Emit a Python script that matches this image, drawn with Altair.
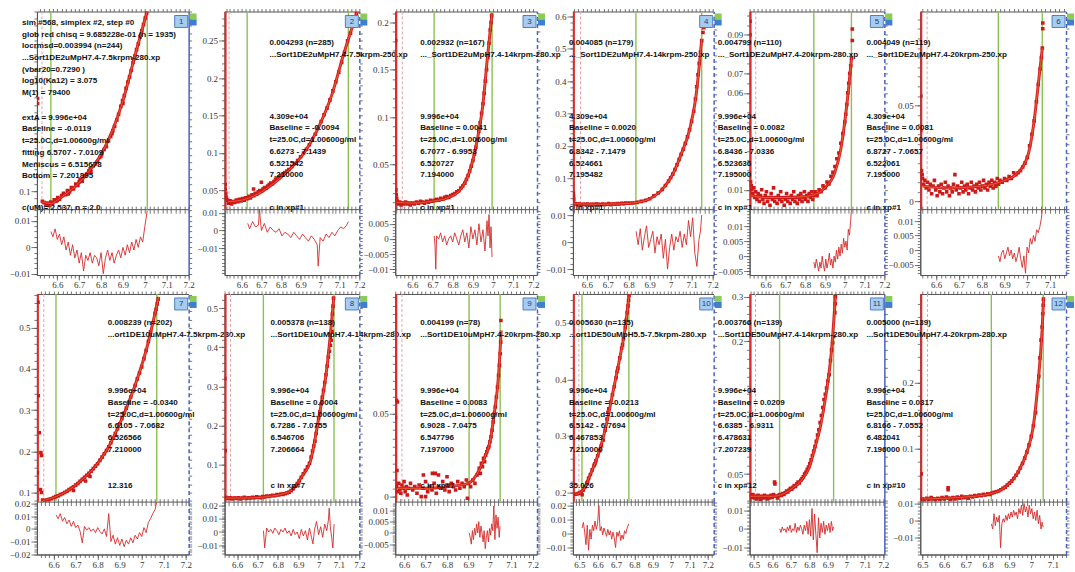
import math
import altair as alt
import pandas as pd

# ---------------- values ----------------
X_LABELS = [6.5, 6.6, 6.7, 6.8, 6.9, 7.0, 7.1, 7.2]

P1_PTS = [(6.510,0.229),(6.510,0.222),(6.532,0.086),(6.540,0.084),(6.548,0.081),(6.556,0.083),(6.562,0.080),(6.570,0.085),(6.578,0.083),(6.586,0.088),(6.594,0.086),(6.600,0.087),(6.602,0.091),(6.610,0.089),(6.620,0.094),(6.628,0.097),(6.638,0.095),(6.646,0.101),(6.650,0.096),(6.656,0.099),(6.664,0.105),(6.674,0.103),(6.684,0.110),(6.694,0.108),(6.700,0.113),(6.704,0.116),(6.714,0.114),(6.724,0.121),(6.734,0.124),(6.744,0.128),(6.750,0.131),(6.754,0.127),(6.764,0.135),(6.774,0.138),(6.784,0.141),(6.794,0.147),(6.800,0.149),(6.804,0.152),(6.814,0.158),(6.824,0.162),(6.834,0.170),(6.844,0.176),(6.850,0.180),(6.854,0.184),(6.862,0.190),(6.872,0.199),(6.880,0.207),(6.890,0.218),(6.898,0.226),(6.900,0.222),(6.906,0.233),(6.914,0.243),(6.922,0.252),(6.930,0.259),(6.938,0.268),(6.946,0.279),(6.950,0.284),(6.954,0.288),(6.962,0.297),(6.970,0.305),(6.978,0.315),(6.986,0.323),(6.994,0.332),(7.002,0.341),(7.008,0.348)]
P1_FIT = [(6.53,0.085),(6.57,0.083),(6.62,0.092),(6.68,0.106),(6.74,0.126),(6.80,0.151),(6.85,0.183),(6.90,0.226),(6.95,0.283),(7.01,0.35)]

P2_PTS = [(6.515,0.058),(6.515,0.052),(6.518,0.046),(6.520,0.041),(6.525,0.037),(6.532,0.033),(6.540,0.036),(6.548,0.032),(6.556,0.035),(6.564,0.034),(6.572,0.037),(6.580,0.035),(6.588,0.038),(6.596,0.036),(6.604,0.039),(6.612,0.037),(6.620,0.040),(6.628,0.039),(6.636,0.042),(6.644,0.040),(6.652,0.044),(6.660,0.043),(6.660,0.052),(6.668,0.046),(6.676,0.045),(6.684,0.048),(6.692,0.050),(6.700,0.049),(6.700,0.061),(6.708,0.052),(6.716,0.054),(6.724,0.053),(6.732,0.056),(6.740,0.058),(6.748,0.060),(6.756,0.059),(6.764,0.062),(6.772,0.065),(6.780,0.066),(6.790,0.068),(6.800,0.070),(6.810,0.072),(6.820,0.074),(6.830,0.076),(6.840,0.078),(6.855,0.082),(6.870,0.086),(6.885,0.090),(6.900,0.095),(6.915,0.100),(6.930,0.105),(6.945,0.111),(6.960,0.117),(6.975,0.125),(6.990,0.133),(7.005,0.142),(7.020,0.151),(7.035,0.160),(7.050,0.171),(7.065,0.183),(7.080,0.195),(7.095,0.208),(7.110,0.221),(7.125,0.235),(7.140,0.250),(7.155,0.260),(7.168,0.270),(7.178,0.280),(7.185,0.286)]
P2_FIT = [(6.53,0.035),(6.60,0.037),(6.68,0.045),(6.76,0.059),(6.84,0.077),(6.92,0.101),(7.00,0.139),(7.06,0.178),(7.12,0.232),(7.19,0.289)]

P3_PTS = [(6.517,0.181),(6.518,0.023),(6.520,0.018),(6.522,0.014),(6.525,0.011),(6.530,0.008),(6.537,0.010),(6.544,0.007),(6.551,0.009),(6.558,0.008),(6.566,0.010),(6.574,0.008),(6.582,0.009),(6.590,0.007),(6.600,0.009),(6.610,0.008),(6.620,0.010),(6.630,0.009),(6.640,0.011),(6.650,0.010),(6.660,0.009),(6.670,0.011),(6.680,0.010),(6.690,0.012),(6.700,0.011),(6.710,0.012),(6.720,0.013),(6.730,0.012),(6.740,0.014),(6.750,0.013),(6.760,0.015),(6.770,0.016),(6.780,0.015),(6.790,0.017),(6.800,0.018),(6.810,0.019),(6.820,0.021),(6.830,0.022),(6.840,0.025),(6.850,0.027),(6.860,0.030),(6.868,0.034),(6.876,0.038),(6.884,0.043),(6.892,0.048),(6.900,0.054),(6.908,0.061),(6.915,0.068),(6.922,0.076),(6.929,0.085),(6.936,0.094),(6.943,0.104),(6.950,0.114),(6.956,0.125),(6.962,0.138),(6.968,0.150),(6.974,0.163),(6.980,0.178),(6.986,0.192),(6.990,0.200),(6.993,0.207)]
P3_FIT = [(6.52,0.010),(6.60,0.009),(6.70,0.011),(6.78,0.015),(6.84,0.024),(6.88,0.040),(6.92,0.074),(6.95,0.114),(6.97,0.158),(6.995,0.21)]

P4_PTS = [(6.536,0.054),(6.537,0.045),(6.538,0.035),(6.545,0.022),(6.555,0.019),(6.565,0.021),(6.575,0.018),(6.585,0.020),(6.595,0.019),(6.605,0.021),(6.615,0.018),(6.625,0.020),(6.635,0.019),(6.645,0.021),(6.655,0.020),(6.665,0.018),(6.675,0.021),(6.685,0.019),(6.695,0.020),(6.705,0.022),(6.715,0.019),(6.725,0.021),(6.735,0.020),(6.745,0.022),(6.755,0.021),(6.765,0.023),(6.775,0.022),(6.785,0.024),(6.795,0.023),(6.805,0.024),(6.820,0.024),(6.840,0.026),(6.860,0.029),(6.880,0.032),(6.900,0.037),(6.920,0.046),(6.940,0.055),(6.960,0.066),(6.975,0.078),(6.990,0.092),(7.000,0.102),(7.010,0.113),(7.020,0.127),(7.030,0.142),(7.040,0.158),(7.050,0.174),(7.060,0.190),(7.070,0.208),(7.080,0.228),(7.090,0.250),(7.100,0.276),(7.110,0.307),(7.118,0.345),(7.124,0.383),(7.130,0.420),(7.136,0.455),(7.142,0.490),(7.148,0.525),(7.154,0.550),(7.158,0.565)]
P4_FIT = [(6.54,0.022),(6.65,0.020),(6.75,0.021),(6.83,0.025),(6.90,0.037),(6.96,0.066),(7.01,0.113),(7.05,0.174),(7.09,0.250),(7.12,0.350),(7.148,0.53)]

P5_PTS = [(6.521,0.097),(6.521,0.090),(6.524,0.014),(6.527,0.012),(6.530,0.010),(6.535,0.008),(6.540,0.011),(6.545,0.006),(6.550,0.009),(6.556,0.005),(6.562,0.008),(6.568,0.004),(6.574,0.007),(6.580,0.010),(6.586,0.005),(6.592,0.003),(6.598,0.007),(6.604,0.009),(6.610,0.004),(6.616,0.006),(6.622,0.002),(6.628,0.008),(6.634,0.005),(6.640,0.011),(6.646,0.004),(6.652,0.006),(6.658,0.003),(6.664,0.007),(6.670,0.005),(6.676,0.009),(6.682,0.004),(6.688,0.006),(6.694,0.002),(6.700,0.005),(6.706,0.008),(6.712,0.004),(6.718,0.006),(6.724,0.003),(6.730,0.007),(6.736,0.005),(6.742,0.009),(6.748,0.004),(6.754,0.006),(6.760,0.003),(6.766,0.007),(6.772,0.005),(6.778,0.008),(6.784,0.004),(6.790,0.006),(6.796,0.009),(6.802,0.005),(6.808,0.007),(6.814,0.004),(6.820,0.008),(6.826,0.006),(6.832,0.009),(6.838,0.005),(6.844,0.007),(6.850,0.009),(6.860,0.007),(6.870,0.010),(6.880,0.009),(6.890,0.012),(6.900,0.011),(6.910,0.014),(6.920,0.013),(6.930,0.017),(6.940,0.019),(6.950,0.022),(6.960,0.026),(6.970,0.029),(6.980,0.034),(6.990,0.039),(7.000,0.045),(7.005,0.049),(7.010,0.054),(7.015,0.060),(7.020,0.065),(7.025,0.070),(7.030,0.074),(7.034,0.078),(7.038,0.087),(7.038,0.093)]
P5_FIT = [(6.525,0.007),(6.60,0.006),(6.70,0.006),(6.80,0.0065),(6.86,0.008),(6.90,0.011),(6.95,0.019),(6.98,0.031),(7.00,0.045),(7.02,0.063),(7.034,0.078)]

P6_PTS = [(6.532,0.055),(6.532,0.037),(6.535,0.016),(6.538,0.014),(6.540,0.012),(6.545,0.009),(6.550,0.011),(6.556,0.007),(6.562,0.010),(6.568,0.006),(6.574,0.009),(6.580,0.004),(6.586,0.008),(6.592,0.011),(6.598,0.006),(6.604,0.003),(6.610,0.008),(6.616,0.005),(6.622,0.009),(6.628,0.004),(6.634,0.007),(6.640,0.010),(6.646,0.005),(6.652,0.008),(6.658,0.003),(6.664,0.007),(6.670,0.005),(6.676,0.009),(6.682,0.014),(6.688,0.006),(6.694,0.008),(6.700,0.004),(6.706,0.007),(6.712,0.010),(6.718,0.005),(6.724,0.008),(6.730,0.006),(6.736,0.009),(6.742,0.004),(6.748,0.007),(6.754,0.010),(6.760,0.006),(6.766,0.008),(6.772,0.005),(6.778,0.009),(6.784,0.007),(6.790,0.010),(6.796,0.006),(6.802,0.008),(6.808,0.011),(6.814,0.007),(6.820,0.009),(6.826,0.006),(6.832,0.010),(6.838,0.008),(6.844,0.011),(6.850,0.007),(6.856,0.010),(6.862,0.008),(6.868,0.012),(6.874,0.009),(6.880,0.011),(6.890,0.010),(6.900,0.012),(6.910,0.011),(6.920,0.013),(6.930,0.012),(6.940,0.015),(6.950,0.014),(6.960,0.015),(6.970,0.016),(6.980,0.018),(6.990,0.020),(7.000,0.023),(7.010,0.029),(7.020,0.035),(7.030,0.042),(7.040,0.052),(7.048,0.061),(7.056,0.069),(7.062,0.075),(7.066,0.080),(7.068,0.090),(7.068,0.093)]
P6_FIT = [(6.54,0.008),(6.65,0.007),(6.75,0.0075),(6.85,0.009),(6.90,0.011),(6.95,0.014),(7.00,0.023),(7.03,0.042),(7.05,0.063),(7.066,0.08)]

P7_PTS = [(6.529,0.562),(6.530,0.335),(6.535,0.245),(6.526,0.148),(6.542,0.197),(6.545,0.190),(6.540,0.107),(6.545,0.100),(6.550,0.082),(6.560,0.080),(6.570,0.081),(6.580,0.083),(6.590,0.085),(6.600,0.088),(6.610,0.090),(6.620,0.092),(6.630,0.095),(6.640,0.097),(6.650,0.100),(6.660,0.103),(6.670,0.107),(6.680,0.110),(6.690,0.114),(6.690,0.105),(6.700,0.118),(6.710,0.122),(6.720,0.127),(6.730,0.132),(6.740,0.137),(6.745,0.128),(6.750,0.142),(6.760,0.147),(6.765,0.139),(6.770,0.152),(6.780,0.158),(6.790,0.164),(6.800,0.170),(6.810,0.178),(6.820,0.186),(6.830,0.194),(6.840,0.202),(6.850,0.211),(6.860,0.221),(6.870,0.232),(6.880,0.243),(6.890,0.255),(6.900,0.267),(6.910,0.280),(6.920,0.293),(6.930,0.305),(6.940,0.318),(6.950,0.332),(6.960,0.346),(6.970,0.360),(6.980,0.376),(6.990,0.390),(7.000,0.405),(7.010,0.425),(7.020,0.445),(7.030,0.467),(7.040,0.490),(7.050,0.512),(7.060,0.535),(7.065,0.545),(7.070,0.558),(7.075,0.570)]
P7_FIT = [(6.55,0.080),(6.60,0.088),(6.66,0.103),(6.72,0.127),(6.78,0.158),(6.84,0.202),(6.90,0.267),(6.96,0.346),(7.02,0.445),(7.077,0.575)]

P8_PTS = [(6.539,0.320),(6.541,0.136),(6.545,0.017),(6.555,0.014),(6.565,0.016),(6.575,0.013),(6.585,0.015),(6.595,0.014),(6.605,0.016),(6.615,0.013),(6.625,0.015),(6.635,0.017),(6.645,0.014),(6.655,0.016),(6.665,0.015),(6.675,0.017),(6.685,0.016),(6.695,0.018),(6.705,0.017),(6.715,0.016),(6.725,0.019),(6.735,0.018),(6.745,0.020),(6.755,0.019),(6.765,0.021),(6.775,0.022),(6.785,0.021),(6.795,0.024),(6.805,0.023),(6.815,0.025),(6.825,0.024),(6.835,0.026),(6.845,0.028),(6.855,0.030),(6.865,0.034),(6.875,0.039),(6.885,0.045),(6.895,0.052),(6.905,0.059),(6.915,0.068),(6.925,0.077),(6.935,0.086),(6.945,0.095),(6.955,0.104),(6.963,0.120),(6.970,0.135),(6.976,0.148),(6.982,0.160),(6.988,0.180),(6.994,0.200),(7.000,0.218),(7.006,0.235),(7.012,0.255),(7.018,0.272),(7.024,0.290),(7.030,0.310),(7.036,0.330),(7.042,0.352),(7.048,0.375),(7.053,0.390),(7.058,0.405),(7.062,0.418),(7.066,0.440),(7.068,0.485),(7.071,0.505),(7.073,0.525)]
P8_FIT = [(6.545,0.015),(6.65,0.015),(6.75,0.019),(6.82,0.025),(6.87,0.036),(6.92,0.072),(6.96,0.110),(7.00,0.218),(7.04,0.345),(7.075,0.53)]

P9_PTS = [(6.560,0.0476),(6.565,0.058),(6.569,0.057),(6.567,0.0157),(6.565,0.006),(6.570,0.003),(6.575,0.008),(6.580,0.004),(6.585,0.002),(6.590,0.007),(6.595,0.005),(6.600,0.009),(6.605,0.003),(6.610,0.006),(6.615,0.001),(6.620,0.005),(6.630,0.008),(6.640,0.004),(6.650,0.006),(6.660,0.002),(6.670,0.007),(6.680,0.000),(6.690,0.005),(6.690,0.013),(6.700,0.009),(6.700,0.000),(6.710,0.003),(6.720,0.006),(6.730,0.004),(6.732,0.014),(6.740,0.008),(6.745,0.014),(6.750,0.002),(6.760,0.006),(6.760,0.013),(6.770,0.005),(6.780,0.009),(6.790,0.004),(6.800,0.007),(6.800,0.012),(6.810,0.003),(6.820,0.008),(6.830,0.006),(6.840,0.004),(6.850,0.009),(6.860,0.005),(6.870,0.008),(6.880,0.006),(6.890,0.010),(6.895,-0.001),(6.900,0.008),(6.910,0.006),(6.920,0.010),(6.930,0.008),(6.940,0.013),(6.950,0.017),(6.955,0.014),(6.960,0.020),(6.965,0.018),(6.970,0.023),(6.975,0.021),(6.980,0.025),(6.985,0.027),(6.990,0.029),(6.995,0.030),(7.000,0.033),(7.005,0.036),(7.010,0.040),(7.015,0.045),(7.020,0.050),(7.025,0.054),(7.030,0.060),(7.035,0.066),(7.040,0.073),(7.044,0.079),(7.048,0.086),(7.050,0.093),(7.051,0.106)]
P9_FIT = [(6.57,0.005),(6.70,0.005),(6.80,0.006),(6.90,0.008),(6.95,0.016),(6.98,0.025),(7.00,0.033),(7.02,0.050),(7.04,0.073),(7.052,0.10)]

P10_PTS = [(6.480,0.197),(6.490,0.198),(6.500,0.199),(6.510,0.201),(6.515,0.196),(6.520,0.204),(6.530,0.210),(6.540,0.217),(6.545,0.219),(6.550,0.225),(6.560,0.232),(6.570,0.240),(6.580,0.248),(6.585,0.251),(6.590,0.256),(6.600,0.265),(6.610,0.274),(6.620,0.283),(6.630,0.293),(6.640,0.310),(6.650,0.330),(6.655,0.342),(6.660,0.348),(6.670,0.360),(6.680,0.373),(6.690,0.387),(6.700,0.403),(6.705,0.414),(6.710,0.420),(6.720,0.438),(6.730,0.455),(6.735,0.461),(6.740,0.472),(6.750,0.492),(6.755,0.505),(6.760,0.518),(6.765,0.530),(6.768,0.540),(6.770,0.548)]
P10_FIT = [(6.48,0.197),(6.52,0.204),(6.56,0.232),(6.60,0.265),(6.64,0.310),(6.68,0.373),(6.72,0.438),(6.75,0.492),(6.77,0.548)]

P11_PTS = [(6.480,0.026),(6.487,0.024),(6.494,0.027),(6.501,0.023),(6.508,0.025),(6.515,0.022),(6.522,0.026),(6.529,0.024),(6.536,0.021),(6.543,0.025),(6.550,0.023),(6.557,0.026),(6.564,0.024),(6.571,0.022),(6.578,0.025),(6.585,0.023),(6.592,0.026),(6.599,0.024),(6.606,0.027),(6.611,0.041),(6.613,0.039),(6.620,0.025),(6.627,0.023),(6.634,0.026),(6.641,0.027),(6.648,0.026),(6.655,0.028),(6.662,0.027),(6.669,0.029),(6.676,0.031),(6.683,0.030),(6.690,0.032),(6.697,0.034),(6.704,0.033),(6.711,0.035),(6.718,0.037),(6.725,0.036),(6.732,0.039),(6.739,0.041),(6.746,0.040),(6.753,0.043),(6.760,0.045),(6.767,0.047),(6.774,0.050),(6.781,0.052),(6.788,0.055),(6.795,0.058),(6.802,0.062),(6.809,0.066),(6.816,0.071),(6.823,0.076),(6.830,0.081),(6.837,0.087),(6.844,0.094),(6.851,0.100),(6.858,0.108),(6.865,0.116),(6.872,0.125),(6.879,0.134),(6.886,0.140),(6.893,0.147),(6.900,0.155),(6.907,0.162),(6.914,0.178),(6.920,0.190),(6.926,0.198),(6.932,0.205),(6.938,0.232),(6.940,0.242),(6.941,0.250)]
P11_FIT = [(6.48,0.025),(6.60,0.025),(6.65,0.027),(6.70,0.033),(6.76,0.044),(6.80,0.058),(6.83,0.080),(6.86,0.104),(6.89,0.140),(6.92,0.190),(6.941,0.25)]

P12_PTS = [(6.494,0.062),(6.618,0.041),(6.618,0.038),(6.500,0.024),(6.510,0.022),(6.520,0.025),(6.530,0.023),(6.540,0.026),(6.550,0.024),(6.560,0.022),(6.570,0.025),(6.580,0.023),(6.590,0.026),(6.600,0.024),(6.610,0.027),(6.620,0.025),(6.630,0.023),(6.640,0.026),(6.650,0.024),(6.660,0.027),(6.670,0.025),(6.680,0.028),(6.690,0.026),(6.700,0.027),(6.710,0.025),(6.720,0.028),(6.730,0.027),(6.740,0.029),(6.750,0.028),(6.760,0.030),(6.770,0.029),(6.780,0.031),(6.790,0.030),(6.800,0.032),(6.810,0.031),(6.820,0.033),(6.830,0.034),(6.840,0.035),(6.850,0.036),(6.860,0.038),(6.870,0.040),(6.880,0.042),(6.890,0.045),(6.900,0.048),(6.910,0.051),(6.920,0.055),(6.930,0.060),(6.940,0.065),(6.950,0.071),(6.960,0.078),(6.970,0.086),(6.980,0.095),(6.990,0.106),(7.000,0.119),(7.010,0.135),(7.020,0.155),(7.030,0.195),(7.035,0.210),(7.040,0.238),(7.045,0.265),(7.050,0.285),(7.053,0.305),(7.055,0.318),(7.056,0.327)]
P12_FIT = [(6.50,0.024),(6.60,0.025),(6.70,0.027),(6.80,0.031),(6.88,0.042),(6.94,0.065),(6.98,0.095),(7.01,0.135),(7.03,0.195),(7.05,0.28),(7.057,0.33)]

P1_RX = [6.571,6.58,6.59,6.60,6.61,6.62,6.63,6.64,6.65,6.66,6.67,6.68,6.69,6.70,6.71,6.72,6.73,6.74,6.75,6.76,6.77,6.78,6.79,6.80,6.81,6.82,6.83,6.84,6.85,6.86,6.87,6.88,6.89,6.90,6.91,6.92,6.93,6.94,6.95,6.96,6.97,6.98,6.99,7.00,7.011]
P1_RY = [0.006,0.004,0.007,0.003,0.005,0.001,0.004,-0.001,0.002,-0.003,0.001,-0.004,-0.001,-0.006,-0.002,-0.009,-0.003,-0.005,-0.002,-0.006,-0.003,-0.004,-0.007,-0.002,-0.010,-0.004,-0.001,-0.005,-0.002,-0.006,-0.003,-0.001,-0.004,0.000,-0.003,0.001,-0.002,0.002,-0.001,0.003,0.000,0.004,0.002,0.008,0.014]
P2_RX = [6.63,6.64,6.655,6.67,6.685,6.69,6.70,6.715,6.73,6.745,6.76,6.775,6.79,6.805,6.82,6.835,6.85,6.865,6.88,6.895,6.91,6.925,6.94,6.955,6.97,6.985,6.99,7.00,7.015,7.03,7.045,7.06,7.075,7.09,7.105,7.12,7.135,7.144]
P2_RY = [0.004,0.001,0.005,0.002,0.003,0.012,0.000,0.004,-0.001,0.002,0.000,-0.001,0.001,-0.003,-0.001,-0.002,-0.004,-0.001,-0.003,-0.005,-0.002,-0.004,-0.006,-0.003,-0.005,-0.008,-0.020,-0.004,-0.006,-0.002,-0.004,-0.001,-0.003,0.000,0.002,0.001,0.003,0.005]
P3_RX = [6.708,6.712,6.716,6.72,6.73,6.74,6.75,6.76,6.77,6.78,6.79,6.80,6.81,6.82,6.83,6.84,6.85,6.86,6.87,6.88,6.89,6.90,6.91,6.92,6.93,6.94,6.95,6.96,6.97,6.975,6.98,6.985,6.99,6.995]
P3_RY = [0.001,-0.002,-0.010,0.001,0.000,0.002,-0.001,0.001,-0.002,0.000,0.001,-0.001,0.002,0.000,-0.002,0.001,0.003,-0.001,0.002,-0.003,0.004,0.000,0.003,-0.002,0.005,-0.001,0.003,-0.004,0.006,0.001,0.008,-0.003,0.004,-0.006]
P4_RX = [6.835,6.845,6.855,6.865,6.875,6.885,6.895,6.905,6.915,6.925,6.935,6.945,6.955,6.965,6.975,6.985,6.995,7.005,7.015,7.025,7.035,7.045,7.055,7.065,7.075,7.085,7.095,7.105,7.115,7.125,7.135,7.142,7.148]
P4_RY = [0.004,-0.001,0.005,-0.003,0.002,0.006,-0.002,0.001,0.004,-0.004,0.002,-0.001,0.003,-0.006,0.001,-0.010,-0.002,0.003,-0.003,0.002,0.000,0.004,-0.002,0.003,-0.001,0.008,0.002,0.009,-0.004,-0.009,0.001,0.004,0.010]
P5_RX = [6.844,6.85,6.856,6.862,6.868,6.874,6.88,6.886,6.892,6.898,6.904,6.91,6.916,6.922,6.928,6.934,6.94,6.946,6.952,6.958,6.964,6.97,6.976,6.982,6.988,6.994,7.0,7.006,7.012,7.018,7.024,7.03,7.034]
P5_RY = [-0.002,-0.004,-0.001,-0.003,-0.005,-0.002,-0.004,0.000,-0.003,-0.005,-0.001,-0.004,-0.002,0.001,-0.003,-0.001,-0.004,0.000,-0.002,0.002,-0.001,0.003,0.000,0.004,0.001,0.006,0.003,0.005,0.002,0.009,0.007,0.012,0.016]
P6_RX = [6.873,6.88,6.887,6.894,6.901,6.908,6.915,6.922,6.929,6.936,6.943,6.95,6.957,6.964,6.971,6.978,6.985,6.992,6.999,7.006,7.013,7.02,7.027,7.034,7.041,7.048,7.055,7.062,7.066]
P6_RY = [-0.002,-0.004,-0.001,0.000,-0.003,-0.001,0.001,-0.002,0.000,-0.003,-0.001,-0.004,-0.002,0.001,-0.003,-0.006,-0.002,-0.008,0.001,-0.001,0.004,0.002,0.005,0.003,0.007,0.006,0.008,0.011,0.014]
P7_RX = [6.611,6.62,6.63,6.64,6.65,6.66,6.67,6.68,6.69,6.70,6.71,6.72,6.73,6.74,6.75,6.76,6.77,6.78,6.79,6.80,6.81,6.82,6.83,6.84,6.85,6.86,6.87,6.88,6.89,6.90,6.91,6.92,6.93,6.94,6.95,6.96,6.97,6.98,6.99,7.00,7.01,7.02,7.03,7.04,7.05,7.06,7.068]
P7_RY = [0.011,0.008,0.012,0.006,0.009,0.004,0.007,0.002,0.006,0.001,0.003,-0.002,-0.011,0.002,-0.001,0.001,-0.002,0.000,-0.003,0.001,-0.002,-0.004,0.000,-0.006,0.012,-0.010,-0.005,-0.012,-0.007,-0.013,-0.008,-0.014,-0.009,-0.012,-0.007,-0.011,-0.005,-0.008,-0.003,-0.006,0.001,-0.003,0.005,0.008,0.012,0.015,0.021]
P8_RX = [6.729,6.735,6.745,6.755,6.765,6.775,6.785,6.795,6.805,6.815,6.825,6.835,6.845,6.855,6.865,6.875,6.885,6.895,6.905,6.915,6.925,6.935,6.945,6.955,6.965,6.972,6.98,6.99,7.0,7.01,7.02,7.03,7.04,7.048,7.052,7.058,7.064,7.07,7.076]
P8_RY = [0.001,-0.012,0.003,0.000,0.002,-0.001,0.003,0.001,-0.002,0.002,0.000,0.003,-0.001,0.001,-0.003,0.002,-0.002,0.000,-0.005,0.002,-0.003,0.001,-0.006,0.003,-0.004,-0.009,0.002,0.008,-0.002,0.004,-0.004,0.006,0.001,0.009,0.018,0.003,-0.004,-0.012,0.006]
P9_RX = [6.903,6.908,6.913,6.918,6.923,6.928,6.933,6.938,6.943,6.948,6.953,6.958,6.963,6.968,6.973,6.978,6.983,6.988,6.993,6.998,7.003,7.008,7.013,7.018,7.023,7.028,7.033,7.038,7.043,7.047]
P9_RY = [0.000,-0.002,-0.005,0.001,-0.003,0.002,-0.001,0.004,0.000,0.005,-0.002,0.003,0.000,-0.004,0.001,-0.007,-0.002,0.001,-0.004,0.002,-0.001,0.004,0.001,0.012,-0.003,0.008,0.002,0.007,-0.002,0.003]
P10_RX = [6.515,6.522,6.529,6.536,6.543,6.55,6.557,6.564,6.571,6.578,6.585,6.592,6.599,6.606,6.613,6.62,6.627,6.634,6.641,6.648,6.655,6.662,6.669,6.676,6.683,6.69,6.697,6.704,6.711,6.718,6.725,6.732,6.739,6.746,6.753,6.76,6.769]
P10_RY = [0.004,0.008,0.001,-0.008,0.006,-0.012,0.003,-0.004,0.006,0.002,0.009,0.003,0.007,0.020,0.002,0.005,-0.001,0.004,0.001,-0.002,0.003,-0.001,0.002,-0.004,0.001,-0.003,-0.010,0.001,-0.002,0.002,-0.005,-0.001,-0.004,0.002,0.000,0.004,0.007]
P11_RX = [6.639,6.646,6.653,6.66,6.667,6.674,6.681,6.688,6.695,6.702,6.709,6.716,6.723,6.73,6.737,6.744,6.751,6.758,6.765,6.772,6.779,6.786,6.793,6.8,6.807,6.814,6.821,6.828,6.835,6.842,6.849,6.856,6.863,6.87,6.877,6.884,6.891,6.898,6.905,6.912,6.919,6.926,6.931]
P11_RY = [0.000,-0.002,0.001,-0.001,0.000,-0.002,0.001,-0.001,0.002,-0.002,0.000,-0.001,0.003,-0.002,0.001,-0.001,0.002,0.000,-0.003,0.002,-0.001,0.004,-0.003,0.005,-0.004,0.011,-0.006,0.008,-0.003,-0.013,0.006,-0.005,0.003,-0.002,0.004,-0.003,0.002,-0.001,0.003,-0.002,0.004,-0.001,0.001]
P12_RX = [6.817,6.823,6.829,6.835,6.841,6.847,6.853,6.859,6.865,6.871,6.877,6.883,6.889,6.895,6.901,6.907,6.913,6.919,6.925,6.931,6.937,6.943,6.949,6.955,6.961,6.967,6.973,6.979,6.985,6.991,6.997,7.003,7.009,7.015,7.021,7.027,7.033,7.039,7.045,7.05,7.055]
P12_RY = [-0.002,-0.005,0.004,-0.003,0.002,-0.001,0.003,-0.016,-0.002,0.001,-0.001,0.003,0.000,0.004,0.001,0.005,0.002,0.006,0.003,0.005,0.001,0.007,0.004,0.009,0.003,0.010,0.005,0.008,0.002,0.009,0.004,0.007,0.001,0.005,0.000,0.006,-0.002,0.003,-0.005,-0.001,-0.004]

FIT_RANGES = [(6.5707,7.0109),(6.6273,7.1439),(6.7077,6.9953),(6.8342,7.1479),(6.8436,7.0336),(6.8727,7.0657),
              (6.6105,7.0682),(6.7286,7.0755),(6.9028,7.0475),(6.5142,6.7694),(6.6385,6.9311),(6.8166,7.0552)]
DASH_X = [6.53,6.535,6.55,6.57,6.55,6.56,6.555,6.567,6.59,6.497,6.508,6.523]

MAIN_LABELS = [[0.1],[0.05,0.1,0.15,0.2,0.25],[0.05,0.1,0.15,0.2],[0.1,0.2,0.3,0.4,0.5,0.6],[0.01,0.06,0.07,0.09],[0,0.05],
               [0.1,0.2,0.3,0.4,0.5],[0.1,0.2,0.3,0.4,0.5],[0,0.05],[0.2,0.3,0.4,0.5],[0.05,0.2,0.25],[0.1,0.2]]
RES_LABELS = [[-0.01,0,0.01],[-0.01,0,0.01],[-0.01,-0.005,0,0.005],[-0.01,0,0.01],[-0.005,0,0.005,0.01],[-0.005,0,0.005,0.01],
              [-0.02,-0.01,0,0.01,0.02],[-0.01,0,0.01,0.02],[-0.005,0,0.005,0.01],[-0.01,0,0.01,0.02],[-0.01,0,0.01],[-0.01,0,0.01]]

P1_HEAD = ["sim #568, simplex #2, step #0", "glob red chisq = 9.685228e-01 (n = 1935)", "locrmsd=0.003994 (n=244)",
           "...Sort1DE2uMpH7.4-7.5krpm-280.xp", "(vbar20=0.7290 )", "log10(Ka12) = 3.075", "M(1) = 79400"]
P1_BODY = ["extA = 9.996e+04", "Baseline = -0.0119", "t=25.0C,d=1.00600g/ml", "fitting 6.5707 - 7.0109",
           "Meniscus = 6.515678", "Bottom = 7.201895"]
HEADS = [P1_HEAD,
         ["0.004293 (n=285)", "...Sort1DE2uMpH7.4-7.5krpm-250.xp"],
         ["0.002932 (n=167)", "..._Sort1DE2uMpH7.4-14krpm-280.xp"],
         ["0.004085 (n=179)", "..._Sort1DE2uMpH7.4-14krpm-250.xp"],
         ["0.004799 (n=110)", "..._Sort1DE2uMpH7.4-20krpm-280.xp"],
         ["0.004049 (n=119)", "..._Sort1DE2uMpH7.4-20krpm-250.xp"],
         ["0.008239 (n=202)", "...ort1DE10uMpH7.4-7.5krpm-280.xp"],
         ["0.005378 (n=138)", "...Sort1DE10uMpH7.4-14krpm-280.xp"],
         ["0.004199 (n=78)", "...Sort1DE10uMpH7.4-20krpm-280.xp"],
         ["0.005630 (n=135)", "...ort1DE50uMpH5.5-7.5krpm-280.xp"],
         ["0.003766 (n=139)", "...Sort1DE50uMpH7.4-14krpm-280.xp"],
         ["0.005000 (n=139)", "...Sort1DE50uMpH7.4-20krpm-280.xp"]]
BODIES = [P1_BODY,
          ["4.309e+04", "Baseline = -0.0094", "t=25.0C,d=1.00600g/ml", "6.6273 - 7.1439", "6.521542", "7.210000"],
          ["9.996e+04", "Baseline = 0.0041", "t=25.0C,d=1.00600g/ml", "6.7077 - 6.9953", "6.520727", "7.194000"],
          ["4.309e+04", "Baseline = 0.0020", "t=25.0C,d=1.00600g/ml", "6.8342 - 7.1479", "6.524661", "7.195482"],
          ["9.996e+04", "Baseline = 0.0082", "t=25.0C,d=1.00600g/ml", "6.8436 - 7.0336", "6.523636", "7.195000"],
          ["4.309e+04", "Baseline = 0.0081", "t=25.0C,d=1.00600g/ml", "6.8727 - 7.0657", "6.522061", "7.195000"],
          ["9.996e+04", "Baseline = -0.0340", "t=25.0C,d=1.00600g/ml", "6.6105 - 7.0682", "6.526566", "7.210000"],
          ["9.996e+04", "Baseline = 0.0004", "t=25.0C,d=1.00600g/ml", "6.7286 - 7.0755", "6.546706", "7.206664"],
          ["9.996e+04", "Baseline = 0.0083", "t=25.0C,d=1.00600g/ml", "6.9028 - 7.0475", "6.547796", "7.197000"],
          ["9.996e+04", "Baseline = -0.0213", "t=25.0C,d=1.00600g/ml", "6.5142 - 6.7694", "6.467853", "7.210000"],
          ["9.996e+04", "Baseline = 0.0209", "t=25.0C,d=1.00600g/ml", "6.6385 - 6.9311", "6.478631", "7.207239"],
          ["9.996e+04", "Baseline = 0.0317", "t=25.0C,d=1.00600g/ml", "6.8166 - 7.0552", "6.482041", "7.196000"]]
BOTTOM_TXT = ["c(uM)= 2.537, n = 2.0", "c in xp#1", "c in xp#1", "c in xp#1", "c in xp#1", "c in xp#1",
              "12.316", "c in xp#7", "c in xp#7", "35.026", "c in xp#12", "c in xp#10"]

# ---------------- layout / style ----------------
WIDTHS = [152, 135, 142, 141, 135, 146]
XDOMS = [(6.507, 7.2), (6.512, 7.2), (6.515, 7.218), (6.534, 7.205), (6.519, 7.2), (6.53, 7.17),
         (6.524, 7.213), (6.538, 7.2), (6.559, 7.219), (6.465, 7.231), (6.476, 7.206), (6.49, 7.16)]
YDOMS = [(0.075, 0.35), (0.025, 0.289), (0.0026, 0.2116), (0.005, 0.615), (0.0, 0.102), (-0.004, 0.099),
         (0.078, 0.582), (0.006, 0.536), (-0.003, 0.122), (0.184, 0.551), (0.019, 0.253), (0.02, 0.335)]
RDOMS = [(-0.0105, 0.0145), (-0.025, 0.012), (-0.0119, 0.0098), (-0.0122, 0.0122), (-0.0063, 0.0157), (-0.0086, 0.0141),
         (-0.0202, 0.0215), (-0.017, 0.023), (-0.0096, 0.0139), (-0.015, 0.0229), (-0.014, 0.0148), (-0.020, 0.0111)]
YSTEP = [0.01, 0.01, 0.01, 0.02, 0.005, 0.005, 0.02, 0.02, 0.005, 0.02, 0.01, 0.02]
RSTEP = [0.002, 0.002, 0.001, 0.002, 0.001, 0.001, 0.002, 0.002, 0.001, 0.002, 0.002, 0.002]
TXT_DX = [-15, 45, 25, -4, -32, -54, 71, 46, 25, -4, -32, -54]
RIGHT_SOLID = [True, False, False, False, False, False, False, False, False, False, True, False]

MAIN_H = [198, 208]
RES_H = [66, 53]
ROW_GAP = 19
TOP_HEAD = [27.5, 25.5]
TOP_BODY = [101.5, 93.5]
TOP_BOT = [192.5, 188.5]

PTS = [P1_PTS, P2_PTS, P3_PTS, P4_PTS, P5_PTS, P6_PTS, P7_PTS, P8_PTS, P9_PTS, P10_PTS, P11_PTS, P12_PTS]
FITS = [P1_FIT, P2_FIT, P3_FIT, P4_FIT, P5_FIT, P6_FIT, P7_FIT, P8_FIT, P9_FIT, P10_FIT, P11_FIT, P12_FIT]
RXS = [P1_RX, P2_RX, P3_RX, P4_RX, P5_RX, P6_RX, P7_RX, P8_RX, P9_RX, P10_RX, P11_RX, P12_RX]
RYS = [P1_RY, P2_RY, P3_RY, P4_RY, P5_RY, P6_RY, P7_RY, P8_RY, P9_RY, P10_RY, P11_RY, P12_RY]

PTC = "#cc1a1a"
BANDC = "#d42424"
FITC = "#ef6a3a"
RESC = "#d42a2a"
GREEN = "#8cc152"
REDL = "#e02a2a"
DASHC = "#e3a3ad"
BLUE = "#4a62c0"
FRAME = "#555555"
TXT_FONT = "Liberation Sans"
AX_FONT = "Liberation Serif"
TXT_SIZE = 8.1
LH = 11.7


def ticks(lo, hi, step):
    k0 = math.ceil(lo / step - 1e-6)
    k1 = math.floor(hi / step + 1e-6)
    return [round(k * step, 6) for k in range(k0, k1 + 1)]


def inside(vals, lo, hi):
    return [v for v in vals if lo - 1e-9 <= v <= hi + 1e-9]


def build_main(i, W, H, row):
    xlo, xhi = XDOMS[i]
    xs = alt.Scale(domain=[xlo, xhi], nice=False, zero=False)
    ys = alt.Scale(domain=list(YDOMS[i]), nice=False, zero=False)
    xmin = ticks(xlo, xhi, 0.02)
    ymin = ticks(YDOMS[i][0], YDOMS[i][1], YSTEP[i])

    pts = pd.DataFrame(PTS[i], columns=["x", "y"])
    fit = pd.DataFrame(FITS[i], columns=["x", "y"])
    green = pd.DataFrame({"x": list(FIT_RANGES[i])})
    dash = pd.DataFrame({"x": [DASH_X[i]]})
    one = pd.DataFrame({"n": [str(i + 1)]})

    rkw = dict(domainColor=BLUE, domainWidth=1.5)
    if not RIGHT_SOLID[i]:
        rkw["domainDash"] = [4, 3]

    layers = []
    layers.append(alt.Chart(dash).mark_rule(color=DASHC, strokeWidth=1, strokeDash=[3, 2]).encode(
        x=alt.X("x:Q", scale=xs, axis=None), y=alt.value(0), y2=alt.value(H)))
    if i != 0:
        layers.append(alt.Chart(one).mark_rule(color=REDL, strokeWidth=2).encode(
            x=alt.value(1), y=alt.value(0), y2=alt.value(H)))
    layers.append(alt.Chart(green).mark_rule(color=GREEN, strokeWidth=1.4).encode(
        x=alt.X("x:Q", scale=xs, axis=None), y=alt.value(0), y2=alt.value(H)))
    layers.append(alt.Chart(fit).mark_line(color=BANDC, strokeWidth=3, clip=True, interpolate="monotone").encode(
        x=alt.X("x:Q", scale=xs, axis=alt.Axis(orient="top", values=xmin, labels=False, tickSize=3, title=None)),
        y=alt.Y("y:Q", scale=ys, axis=alt.Axis(orient="left", values=ymin, labels=False, tickSize=3, title=None))))
    layers.append(alt.Chart(pts).mark_square(size=13, color=PTC, opacity=1, clip=True).encode(
        x=alt.X("x:Q", scale=xs, axis=alt.Axis(orient="bottom", values=xmin, labels=False, tickSize=4, title=None)),
        y=alt.Y("y:Q", scale=ys, axis=alt.Axis(orient="left", values=MAIN_LABELS[i], format="~g", tickSize=6,
                                                labelPadding=1, labelOverlap=False, title=None))))
    layers.append(alt.Chart(fit).mark_line(color=FITC, strokeWidth=0.8, clip=True, interpolate="monotone").encode(
        x=alt.X("x:Q", scale=xs, axis=None),
        y=alt.Y("y:Q", scale=ys, axis=alt.Axis(orient="right", values=ymin, labels=False, tickSize=3, title=None, **rkw))))

    if i == 0:
        t_head, t_body = 7.5, 102.5
    else:
        t_head, t_body = TOP_HEAD[row], TOP_BODY[row]
    tstyle = dict(align="left", baseline="top", font=TXT_FONT, fontSize=TXT_SIZE, fontWeight="bold",
                  lineHeight=LH, color="#111")
    layers.append(alt.Chart(one).mark_text(**tstyle).encode(
        x=alt.value(TXT_DX[i]), y=alt.value(t_head), text=alt.value(HEADS[i])))
    layers.append(alt.Chart(one).mark_text(**tstyle).encode(
        x=alt.value(TXT_DX[i]), y=alt.value(t_body), text=alt.value(BODIES[i])))
    layers.append(alt.Chart(one).mark_text(**tstyle).encode(
        x=alt.value(TXT_DX[i]), y=alt.value(TOP_BOT[row]), text=alt.value(BOTTOM_TXT[i])))

    layers.append(alt.Chart(one).mark_rect(fill="#a6cdf0", stroke="#4f7fc0", strokeWidth=1).encode(
        x=alt.value(W - 14), x2=alt.value(W - 1), y=alt.value(4), y2=alt.value(16)))
    layers.append(alt.Chart(one).mark_text(font=TXT_FONT, fontSize=8, color="#1f3f80", align="center",
                                           baseline="middle").encode(
        x=alt.value(W - 7.5), y=alt.value(10.5), text=alt.Text("n:N")))
    layers.append(alt.Chart(one).mark_rect(fill="#8ccb5a").encode(
        x=alt.value(W + 1), x2=alt.value(W + 8), y=alt.value(2), y2=alt.value(8)))
    layers.append(alt.Chart(one).mark_rect(fill="#3f7fd0").encode(
        x=alt.value(W + 1), x2=alt.value(W + 8), y=alt.value(8), y2=alt.value(14)))

    return alt.layer(*layers).resolve_axis(x="independent", y="independent").properties(width=W, height=H)


def build_resid(i, W, RH, gap):
    xlo, xhi = XDOMS[i]
    xs = alt.Scale(domain=[xlo, xhi], nice=False, zero=False)
    rs = alt.Scale(domain=list(RDOMS[i]), range=[RH, 0], nice=False, zero=False, clamp=True)
    xmaj = inside(X_LABELS, xlo, xhi)
    xmin = ticks(xlo, xhi, 0.02)
    rmin = ticks(RDOMS[i][0], RDOMS[i][1], RSTEP[i])
    res = pd.DataFrame({"x": RXS[i][:len(RYS[i])], "r": RYS[i][:len(RXS[i])]})

    rkw = dict(domainColor=BLUE, domainWidth=1.5)
    if not RIGHT_SOLID[i]:
        rkw["domainDash"] = [4, 3]
    off = -gap

    rl = []
    rl.append(alt.Chart(res).mark_line(color=RESC, strokeWidth=0.9, clip=True).encode(
        x=alt.X("x:Q", scale=xs, axis=alt.Axis(orient="bottom", values=xmaj, format="~g", tickSize=5, labelPadding=1,
                                                labelFlush=False, labelOverlap=False, title=None, offset=off)),
        y=alt.Y("r:Q", scale=rs, axis=alt.Axis(orient="left", values=RES_LABELS[i], format="~g", tickSize=6,
                                                labelPadding=1, labelOverlap=False, title=None))))
    rl.append(alt.Chart(res).mark_point(opacity=0).encode(
        x=alt.X("x:Q", scale=xs, axis=alt.Axis(orient="bottom", values=xmin, labels=False, tickSize=3, title=None,
                                                offset=off)),
        y=alt.Y("r:Q", scale=rs, axis=alt.Axis(orient="left", values=rmin, labels=False, tickSize=3, title=None))))
    rl.append(alt.Chart(res).mark_point(opacity=0).encode(
        x=alt.X("x:Q", scale=xs, axis=alt.Axis(orient="top", values=xmin, labels=False, tickSize=3, domain=False,
                                                title=None)),
        y=alt.Y("r:Q", scale=rs, axis=alt.Axis(orient="right", values=rmin, labels=False, tickSize=3, title=None, **rkw))))
    return alt.layer(*rl).resolve_axis(x="independent", y="independent").properties(width=W, height=RH + gap)


cells = []
for row in range(2):
    for c in range(6):
        cells.append(build_main(row * 6 + c, WIDTHS[c], MAIN_H[row], row))
    for c in range(6):
        cells.append(build_resid(row * 6 + c, WIDTHS[c], RES_H[row], ROW_GAP if row == 0 else 0))

chart = alt.concat(*cells, columns=6, spacing={"row": 0, "column": 36}, bounds="flush").resolve_scale(
    x="independent", y="independent"
).properties(
    padding={"left": 8, "top": 7, "right": 0, "bottom": 0}
).configure_axis(
    labelFont=AX_FONT, labelFontSize=9, labelColor="#333", tickColor=FRAME, domainColor=FRAME,
    domainWidth=1, tickWidth=0.8, grid=False
).configure_view(stroke="transparent")

chart.save("out.html", embed_options={"renderer": "svg", "actions": False})
